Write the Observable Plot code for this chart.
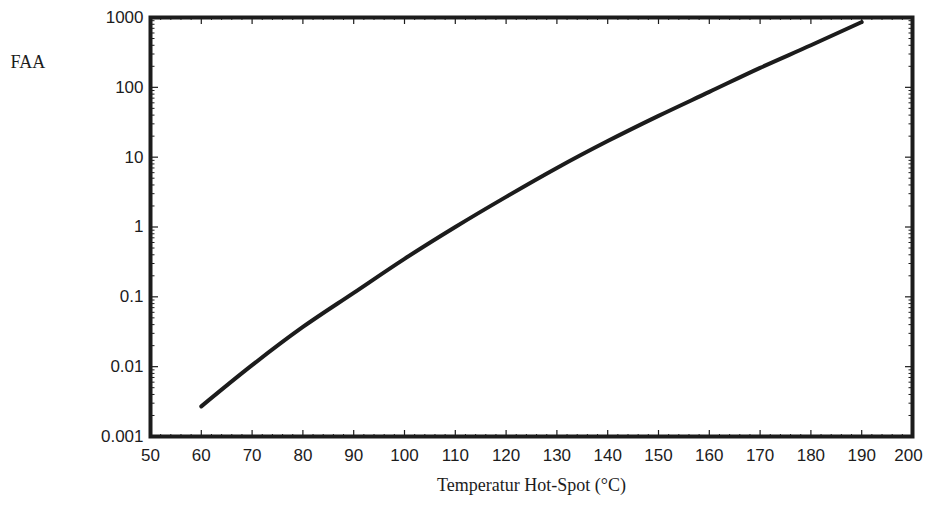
<!DOCTYPE html>
<html>
<head>
<meta charset="utf-8">
<script src="https://cdn.jsdelivr.net/npm/d3@7"></script>
<script src="https://cdn.jsdelivr.net/npm/@observablehq/plot@0.6"></script>
<style>
  html, body { margin: 0; padding: 0; background: #fff; }
  #chart svg { display: block; }
</style>
</head>
<body>
<div id="chart"></div>
<script>
// Hot-spot temperature (°C) and aging acceleration factor FAA
const temperature = [60, 70, 80, 90, 100, 110, 120, 130, 140, 150, 160, 170, 180, 190];
const faa = [0.0027, 0.0105, 0.037, 0.114, 0.35, 1.0, 2.7, 7.0, 17, 39, 86, 190, 400, 860];

const xTicks = [50, 60, 70, 80, 90, 100, 110, 120, 130, 140, 150, 160, 170, 180, 190, 200];
const yTicks = [0.001, 0.01, 0.1, 1, 10, 100, 1000];
const yTickLabels = ["0.001", "0.01", "0.1", "1", "10", "100", "1000"];

const data = temperature.map((t, i) => ({t, v: faa[i]}));
const xMinor = d3.range(50, 201, 2).filter(v => v % 10 !== 0);
const yMinor = [];
for (let e = -3; e < 3; e++) for (let m = 2; m <= 9; m++) yMinor.push(m * Math.pow(10, e));

const ink = "#1c1c1c";
const sans = "Liberation Sans, Arial, sans-serif";
const serif = "Liberation Serif, Times New Roman, serif";

const chart = Plot.plot({
  width: 925,
  height: 512,
  marginTop: 17,
  marginBottom: 76,
  marginLeft: 150,
  marginRight: 13,
  style: {fontFamily: sans, fontSize: "17px", color: ink, background: "#fff"},
  x: {domain: [50, 200]},
  y: {type: "log", domain: [0.001, 1000]},
  marks: [
    // tick labels
    Plot.axisY(yTicks, {anchor: "left", tickSize: 0, tickPadding: 7, fontSize: 17, fill: ink,
      stroke: ink, strokeWidth: 0.35,
      tickFormat: d => yTickLabels[yTicks.indexOf(d)], label: null}),
    Plot.axisX(xTicks.slice(0, -1), {anchor: "bottom", tickSize: 0, tickPadding: 12, fontSize: 17, fill: ink,
      stroke: ink, strokeWidth: 0.35, label: null}),
    Plot.axisX(xTicks.slice(-1), {anchor: "bottom", tickSize: 0, tickPadding: 12, fontSize: 17, fill: ink,
      stroke: ink, strokeWidth: 0.35, dx: -4, label: null}),
    // inward ticks on all four sides
    Plot.axisY(yTicks, {anchor: "right", frameAnchor: "left", tickSize: 7, tickFormat: () => "", stroke: ink, strokeWidth: 1.2, label: null}),
    Plot.axisY(yMinor, {anchor: "right", frameAnchor: "left", tickSize: 3.5, tickFormat: () => "", stroke: ink, label: null}),
    Plot.axisY(yTicks, {anchor: "left", frameAnchor: "right", tickSize: 7, tickFormat: () => "", stroke: ink, strokeWidth: 1.2, label: null}),
    Plot.axisY(yMinor, {anchor: "left", frameAnchor: "right", tickSize: 3.5, tickFormat: () => "", stroke: ink, label: null}),
    Plot.axisX(xTicks, {anchor: "top", frameAnchor: "bottom", tickSize: 7, tickFormat: () => "", stroke: ink, strokeWidth: 1.2, label: null}),
    Plot.axisX(xMinor, {anchor: "top", frameAnchor: "bottom", tickSize: 3, tickFormat: () => "", stroke: ink, label: null}),
    Plot.axisX(xTicks, {anchor: "bottom", frameAnchor: "top", tickSize: 7, tickFormat: () => "", stroke: ink, strokeWidth: 1.2, label: null}),
    Plot.axisX(xMinor, {anchor: "bottom", frameAnchor: "top", tickSize: 3, tickFormat: () => "", stroke: ink, label: null}),
    Plot.frame({stroke: ink, strokeWidth: 4}),
    Plot.line(data, {x: "t", y: "v", stroke: ink, strokeWidth: 4, curve: "monotone-x"}),
    Plot.text(["FAA"], {frameAnchor: "top-left", dx: -140, dy: 38, textAnchor: "start",
      fontSize: 18, fontFamily: serif, fill: ink}),
    Plot.text(["Temperatur Hot-Spot (°C)"], {frameAnchor: "bottom", dy: 54,
      fontSize: 18, fontFamily: serif, fill: ink})
  ]
});
document.getElementById("chart").append(chart);
</script>
</body>
</html>
